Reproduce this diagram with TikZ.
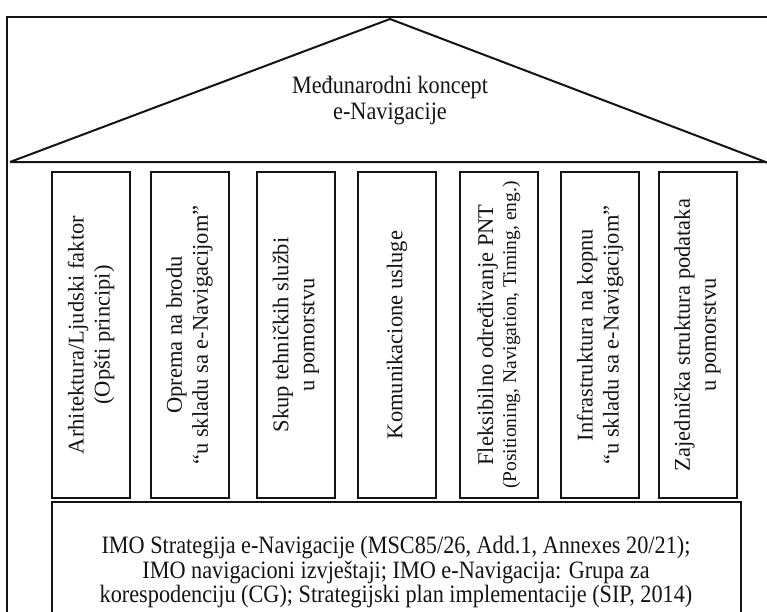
\documentclass[tikz,border=0pt]{standalone}
\usepackage{fontspec}
\usepackage{graphicx}
\setmainfont{Liberation Serif}
\definecolor{ink}{gray}{0.08}
% narrow-set block of centred lines
\newcommand{\narrowblock}[3]{\scalebox{0.89}[1]{\fontsize{#1}{#2}\selectfont\begin{tabular}{@{}c@{}}#3\end{tabular}}}
\begin{document}
\begin{tikzpicture}[x=1pt,y=-1pt,
  line join=miter,
  pillar/.style={draw=ink, line width=2pt, rotate=90, inner sep=0pt,
    minimum width=326pt, minimum height=78pt, align=center, text=ink,
    font=\fontsize{22.5}{26}\selectfont},
  label/.style={inner sep=0pt, text=ink}]
\useasboundingbox (0,0) rectangle (767,611);
\fill[white] (0,0) rectangle (767,611);
\clip (0,0) rectangle (767,611);

% outer frame
\draw[ink, line width=2pt] (7,620) -- (7,17) -- (780,17);

% roof
\draw[ink, line width=2pt] (10,162) -- (390,19) -- (771,164) (10,162) -- (780,162);
\node[label] (title) at (390,101)
  {\narrowblock{25}{26}{Međunarodni koncept\\e-Navigacije}};

% pillars
\node[pillar] (p1) at (91,335) {Arhitektura/Ljudski faktor\\(Opšti principi)};
\node[pillar] (p2) at (189.5,335) {Oprema na brodu\\“u skladu sa e-Navigacijom”};
\node[pillar] (p3) at (296,335) {Skup tehničkih službi\\u pomorstvu};
\node[pillar] (p4) at (397,335) {Komunikacione usluge};
\node[pillar] (p5) at (499,335) {Fleksibilno određivanje PNT\\[-3pt]{\fontsize{19.5}{22}\selectfont(Positioning, Navigation, Timing, eng.)}};
\node[pillar] (p6) at (600,335) {Infrastruktura na kopnu\\“u skladu sa e-Navigacijom”};
\node[pillar] (p7) at (697.5,335) {Zajednička struktura podataka\\u pomorstvu};

% foundation
\node[draw=ink, line width=2pt, anchor=north west, minimum width=689pt,
  minimum height=150pt, inner sep=0pt] (base) at (51,501) {};
\node[label] (basetext) at (396,573)
  {\narrowblock{25}{24.5}{IMO Strategija e-Navigacije (MSC85/26, Add.1, Annexes 20/21);\\
   IMO navigacioni izvještaji; IMO e-Navigacija: Grupa za\\
   korespodenciju (CG); Strategijski plan implementacije (SIP, 2014)}};
\end{tikzpicture}
\end{document}
